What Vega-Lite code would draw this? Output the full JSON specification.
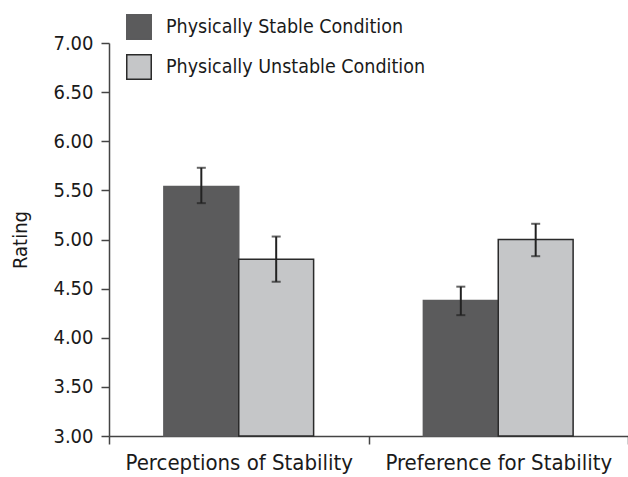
{
  "$schema": "https://vega.github.io/schema/vega-lite/v6.json",
  "autosize": {"type": "none"},
  "padding": {"left": 109, "top": 43, "right": 0, "bottom": 41},
  "width": 519,
  "height": 393,
  "background": "white",
  "config": {
    "font": "DejaVu Sans Condensed, Roboto, sans-serif",
    "view": {"stroke": null},
    "axis": {"labelFont": "DejaVu Sans Condensed, Roboto, sans-serif", "titleFont": "DejaVu Sans Condensed, Roboto, sans-serif", "labelColor": "#1a1a1a", "titleColor": "#1a1a1a", "domainColor": "#444444", "tickColor": "#444444", "domainWidth": 1.5, "tickWidth": 1.5, "grid": false, "labelLimit": 0},
    "legend": {"labelFont": "DejaVu Sans Condensed, Roboto, sans-serif", "labelLimit": 0}
  },
  "data": {
    "values": [
      {"measure": "Perceptions of Stability", "condition": "Physically Stable Condition", "mean": 5.54, "lo": 5.37, "hi": 5.73},
      {"measure": "Perceptions of Stability", "condition": "Physically Unstable Condition", "mean": 4.8, "lo": 4.57, "hi": 5.03},
      {"measure": "Preference for Stability", "condition": "Physically Stable Condition", "mean": 4.38, "lo": 4.23, "hi": 4.52},
      {"measure": "Preference for Stability", "condition": "Physically Unstable Condition", "mean": 5.0, "lo": 4.83, "hi": 5.16}
    ]
  },
  "encoding": {
    "x": {"field": "measure", "type": "nominal", "sort": null,
      "scale": {"paddingInner": 0, "paddingOuter": 0},
      "axis": {"title": null, "labelAngle": 0, "labelFontSize": 22, "tickBand": "extent", "tickSize": 8, "labelPadding": 8}},
    "xOffset": {"field": "condition", "type": "nominal", "sort": null,
      "scale": {"paddingInner": 0, "paddingOuter": 0.733}}
  },
  "layer": [
    {
      "mark": {"type": "bar", "strokeWidth": 1.5},
      "encoding": {
        "y": {"field": "mean", "type": "quantitative",
          "scale": {"domain": [3, 7], "zero": false, "nice": false},
          "axis": {"title": "Rating", "titleFontSize": 20, "titleFontWeight": "normal", "titlePadding": 22, "labelFontSize": 20, "format": ".2f", "values": [3, 3.5, 4, 4.5, 5, 5.5, 6, 6.5, 7], "tickSize": 8, "labelPadding": 8}},
        "y2": {"datum": 3},
        "fill": {"field": "condition", "type": "nominal", "sort": null,
          "scale": {"range": ["#5b5b5c", "#c5c6c8"]},
          "legend": {"title": null, "orient": "none", "legendX": 17, "legendY": -29, "symbolType": "square", "symbolSize": 600, "symbolStrokeColor": "#333333", "symbolStrokeWidth": 1.5, "labelFontSize": 19.5, "labelColor": "#1a1a1a", "labelOffset": 14, "rowPadding": 8, "symbolOpacity": 1}},
        "stroke": {"field": "condition", "type": "nominal", "sort": null,
          "scale": {"range": ["#5b5b5c", "#2a2a2a"]}, "legend": null}
      }
    },
    {
      "mark": {"type": "rule", "color": "#222222", "strokeWidth": 2},
      "encoding": {
        "y": {"field": "lo", "type": "quantitative"},
        "y2": {"field": "hi"}
      }
    },
    {
      "mark": {"type": "tick", "color": "#222222", "size": 9, "thickness": 2},
      "encoding": {"y": {"field": "lo", "type": "quantitative"}}
    },
    {
      "mark": {"type": "tick", "color": "#222222", "size": 9, "thickness": 2},
      "encoding": {"y": {"field": "hi", "type": "quantitative"}}
    }
  ]
}
